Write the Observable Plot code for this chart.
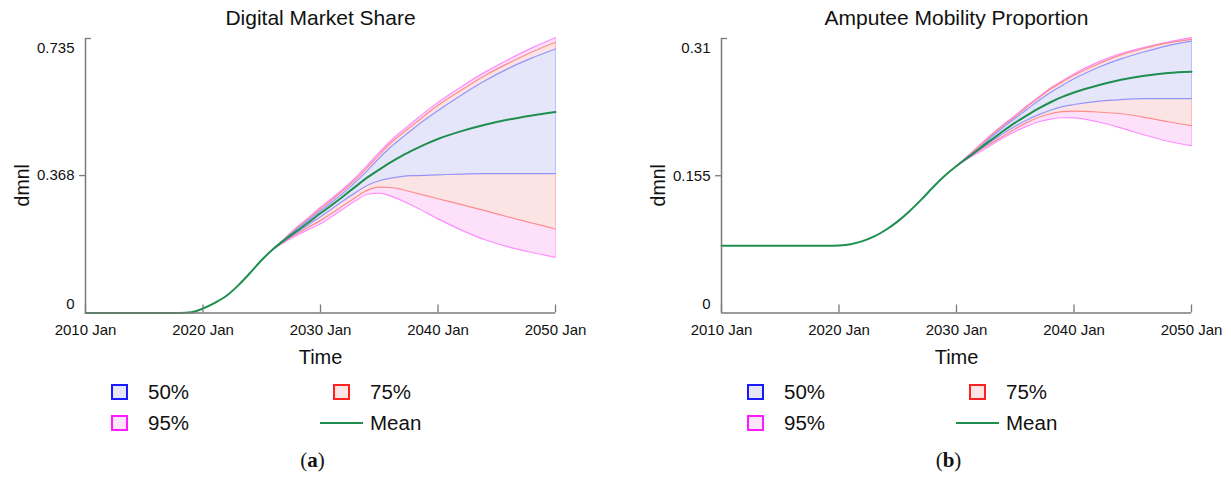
<!DOCTYPE html>
<html><head><meta charset="utf-8">
<script src="https://cdn.jsdelivr.net/npm/d3@7"></script>
<script src="https://cdn.jsdelivr.net/npm/@observablehq/plot@0.6"></script>
<style>
body{margin:0;background:#fff;font-family:"Liberation Sans",Arial,sans-serif;}
#root{position:relative;width:1231px;height:477px;overflow:hidden;background:#fff;}
.panel{position:absolute;top:0;height:477px;}
.panel svg{position:absolute;left:0;top:0;}
.lg{position:absolute;font-size:20.5px;color:#111;line-height:1;white-space:nowrap;}
.sw{position:absolute;width:13px;height:12px;border:2px solid;}
.ml{position:absolute;height:2px;}
.cap{position:absolute;font-family:"Liberation Serif","DejaVu Serif",serif;font-size:21px;line-height:1;color:#111;transform:translateX(-50%);white-space:nowrap;}
</style></head><body><div id="root"></div>
<script>
// ---- shared axis ticks ----
const xTicks = [2010, 2020, 2030, 2040, 2050];
const xTickLabels = ["2010 Jan", "2020 Jan", "2030 Jan", "2040 Jan", "2050 Jan"];
const legendLabels = ["50%", "75%", "95%", "Mean"];

// ---- panel (a): Digital Market Share ----
const aTitle = "Digital Market Share";
const aYTicks = [0, 0.368, 0.735];
const aYTickLabels = ["0", "0.368", "0.735"];
const aMeanYears = [2010, 2018, 2019, 2020, 2021, 2022, 2023, 2024, 2025, 2026, 2027, 2028, 2029, 2030, 2031, 2032, 2033, 2034, 2035, 2036, 2037, 2038, 2039, 2040, 2042, 2044, 2046, 2048, 2050];
const aMean = [0, 0, 0.002, 0.012, 0.027, 0.046, 0.074, 0.107, 0.142, 0.172, 0.197, 0.220, 0.243, 0.267, 0.290, 0.314, 0.339, 0.363, 0.384, 0.404, 0.422, 0.438, 0.453, 0.466, 0.487, 0.504, 0.518, 0.529, 0.538];
const aBandYears = [2026, 2027, 2028, 2029, 2030, 2031, 2032, 2033, 2034, 2035, 2036, 2037, 2038, 2040, 2042, 2044, 2046, 2048, 2050];
const aUp95 = [0.172, 0.201, 0.230, 0.256, 0.283, 0.308, 0.334, 0.363, 0.396, 0.430, 0.462, 0.489, 0.515, 0.564, 0.606, 0.645, 0.679, 0.710, 0.737];
const aUp75 = [0.172, 0.200, 0.228, 0.253, 0.279, 0.304, 0.330, 0.358, 0.390, 0.424, 0.456, 0.482, 0.507, 0.556, 0.597, 0.636, 0.669, 0.699, 0.725];
const aUp50 = [0.172, 0.199, 0.225, 0.249, 0.274, 0.298, 0.323, 0.351, 0.382, 0.415, 0.445, 0.471, 0.496, 0.542, 0.584, 0.622, 0.655, 0.683, 0.707];
const aLo50 = [0.172, 0.195, 0.216, 0.237, 0.258, 0.280, 0.302, 0.323, 0.342, 0.354, 0.361, 0.366, 0.368, 0.370, 0.372, 0.373, 0.373, 0.373, 0.373];
const aLo75 = [0.172, 0.193, 0.212, 0.230, 0.248, 0.268, 0.289, 0.310, 0.329, 0.337, 0.336, 0.330, 0.322, 0.306, 0.290, 0.274, 0.257, 0.241, 0.225];
const aLo95 = [0.172, 0.191, 0.208, 0.224, 0.239, 0.259, 0.280, 0.301, 0.318, 0.321, 0.313, 0.300, 0.285, 0.252, 0.222, 0.196, 0.177, 0.162, 0.149];

// ---- panel (b): Amputee Mobility Proportion ----
const bTitle = "Amputee Mobility Proportion";
const bYTicks = [0, 0.155, 0.31];
const bYTickLabels = ["0", "0.155", "0.31"];
const bMeanYears = [2010, 2019, 2020, 2021, 2022, 2023, 2024, 2025, 2026, 2027, 2028, 2029, 2030, 2031, 2032, 2033, 2034, 2035, 2036, 2037, 2038, 2039, 2040, 2042, 2044, 2046, 2048, 2050];
const bMean = [0.076, 0.076, 0.0763, 0.0777, 0.0812, 0.0865, 0.094, 0.1035, 0.115, 0.128, 0.142, 0.155, 0.166, 0.176, 0.186, 0.196, 0.2058, 0.215, 0.2232, 0.231, 0.238, 0.244, 0.249, 0.257, 0.2635, 0.268, 0.271, 0.2724];
const bBandYears = [2030, 2031, 2032, 2033, 2034, 2035, 2036, 2037, 2038, 2039, 2040, 2042, 2044, 2046, 2048, 2050];
const bUp95 = [0.166, 0.178, 0.190, 0.202, 0.213, 0.223, 0.234, 0.244, 0.254, 0.262, 0.270, 0.283, 0.293, 0.300, 0.306, 0.311];
const bUp75 = [0.166, 0.177, 0.189, 0.201, 0.212, 0.222, 0.233, 0.243, 0.253, 0.261, 0.2685, 0.281, 0.2915, 0.299, 0.305, 0.309];
const bUp50 = [0.166, 0.1765, 0.187, 0.199, 0.210, 0.220, 0.230, 0.240, 0.249, 0.257, 0.2645, 0.277, 0.287, 0.295, 0.302, 0.307];
const bLo50 = [0.166, 0.1755, 0.185, 0.194, 0.203, 0.211, 0.218, 0.224, 0.229, 0.233, 0.2355, 0.239, 0.241, 0.242, 0.242, 0.242];
const bLo75 = [0.166, 0.175, 0.184, 0.192, 0.200, 0.208, 0.215, 0.221, 0.225, 0.2275, 0.228, 0.227, 0.225, 0.221, 0.216, 0.2117];
const bLo95 = [0.166, 0.1745, 0.182, 0.190, 0.198, 0.205, 0.211, 0.216, 0.219, 0.2205, 0.2204, 0.216, 0.209, 0.201, 0.194, 0.189];

// ---- styling ----
const C = {
  fill95: "#fde1fb", fill75: "#fde4e4", fill50: "#e6e6fa",
  line95: "#ff8cff", line75: "#ff8c8c", line50: "#9494ff",
  mean: "#1e8f4e", axis: "#7a7a7a", text: "#111"
};
const FONT = "'Liberation Sans', Arial, Helvetica, sans-serif";
const curve = "monotone-x";

function panel(cfg) {
  const bands = cfg.bandYears.map((t, i) => ({
    t, up95: cfg.up95[i], up75: cfg.up75[i], up50: cfg.up50[i],
    lo50: cfg.lo50[i], lo75: cfg.lo75[i], lo95: cfg.lo95[i]
  }));
  const last = bands[bands.length - 1];
  const means = cfg.meanYears.map((t, i) => ({t, v: cfg.mean[i]}));
  const yT = cfg.yTicks, n = yT.length;
  const edge = (key, color) => Plot.lineY(bands, {x: "t", y: key, stroke: color, strokeWidth: 1.2, curve});
  const endEdge = (k1, k2, color) => Plot.ruleX([last], {x: "t", y1: k1, y2: k2, stroke: color, strokeWidth: 1, strokeOpacity: 0.6});
  const yLabels = yT.map((v, i) => Plot.text([v], {
    y: d => d, frameAnchor: "left", dx: -11,
    dy: i === 0 ? -9.2 : (i === n - 1 ? 9.7 : 0),
    text: () => cfg.yTickLabels[i], textAnchor: "end", lineAnchor: "middle",
    fontSize: 15, fill: C.text
  }));
  const chart = Plot.plot({
    width: cfg.width, height: 477,
    marginLeft: 85, marginRight: cfg.width - 85 - 470, marginTop: 38, marginBottom: 164.5,
    x: {domain: [xTicks[0], xTicks[xTicks.length - 1]]},
    y: {domain: [yT[0], yT[n - 1]]},
    style: {fontFamily: FONT, background: "transparent", overflow: "visible"},
    marks: [
      Plot.areaY(bands, {x: "t", y1: "lo95", y2: "up95", fill: C.fill95, curve}),
      Plot.areaY(bands, {x: "t", y1: "lo75", y2: "up75", fill: C.fill75, curve}),
      Plot.areaY(bands, {x: "t", y1: "lo50", y2: "up50", fill: C.fill50, curve}),
      endEdge("lo95", "lo75", C.line95), endEdge("up75", "up95", C.line95),
      endEdge("lo75", "lo50", C.line75), endEdge("up50", "up75", C.line75),
      endEdge("lo50", "up50", C.line50),
      edge("lo95", C.line95), edge("up95", C.line95),
      edge("lo75", C.line75), edge("up75", C.line75),
      edge("lo50", C.line50), edge("up50", C.line50),
      Plot.lineY(means, {x: "t", y: "v", stroke: C.mean, strokeWidth: 2, curve}),
      // axis lines
      Plot.ruleX([xTicks[0]], {stroke: C.axis, strokeWidth: 1.5}),
      Plot.ruleY([yT[0]], {stroke: C.axis, strokeWidth: 1.5}),
      // x ticks pointing inward
      Plot.axisX({ticks: xTicks, tickSize: 8, dy: -8, fill: "none", stroke: C.axis, strokeWidth: 1.3, label: null}),
      // middle y tick outward, top y tick inward
      Plot.axisY({ticks: yT.slice(1, n - 1), tickSize: 6, fill: "none", stroke: C.axis, strokeWidth: 1.3, label: null}),
      Plot.axisY({ticks: [yT[n - 1]], tickSize: 6, dx: 6, fill: "none", stroke: C.axis, strokeWidth: 1.3, label: null}),
      // tick labels
      Plot.text(xTicks, {x: d => d, frameAnchor: "bottom", dy: 16.8, text: (d, i) => xTickLabels[i],
        textAnchor: "middle", lineAnchor: "middle", fontSize: 15, fill: C.text}),
      ...yLabels,
      // title and axis labels
      Plot.text([cfg.title], {frameAnchor: "top", dy: -19.8, text: d => d, fontSize: 21, lineAnchor: "middle", fill: C.text}),
      Plot.text(["Time"], {frameAnchor: "bottom", dy: 44.2, text: d => d, fontSize: 20, lineAnchor: "middle", fill: C.text}),
      Plot.text(["dmnl"], {frameAnchor: "left", dx: -63, dy: 9.5, rotate: -90, text: d => d, fontSize: 19.5,
        textAnchor: "middle", lineAnchor: "middle", fill: C.text})
    ]
  });

  const div = document.createElement("div");
  div.className = "panel";
  div.style.left = cfg.left + "px";
  div.style.width = cfg.width + "px";
  div.appendChild(chart);

  const add = (html, cls, css) => {
    const e = document.createElement("div");
    e.className = cls;
    if (html != null) e.innerHTML = html;
    Object.assign(e.style, css);
    div.appendChild(e);
  };
  // legend
  add(null, "sw", {left: "111px", top: "383.5px", borderColor: "#1a1aff", background: "#e6e6f8"});
  add(legendLabels[0], "lg", {left: "148px", top: "382px"});
  add(null, "sw", {left: "333px", top: "383.5px", borderColor: "#ff2020", background: "#fbe4e4"});
  add(legendLabels[1], "lg", {left: "370px", top: "382px"});
  add(null, "sw", {left: "111px", top: "415px", borderColor: "#ff1aff", background: "#fde6fb"});
  add(legendLabels[2], "lg", {left: "148px", top: "413px"});
  add(null, "ml", {left: "320px", top: "421.5px", width: "43px", background: C.mean});
  add(legendLabels[3], "lg", {left: "370px", top: "413px"});
  // caption
  add(`(<b>${cfg.caption}</b>)`, "cap", {left: "312.5px", top: "450px"});
  return div;
}

const root = document.getElementById("root");
root.appendChild(panel({
  left: 0, width: 636, title: aTitle, caption: "a",
  yTicks: aYTicks, yTickLabels: aYTickLabels,
  meanYears: aMeanYears, mean: aMean, bandYears: aBandYears,
  up95: aUp95, up75: aUp75, up50: aUp50, lo50: aLo50, lo75: aLo75, lo95: aLo95
}));
root.appendChild(panel({
  left: 636, width: 595, title: bTitle, caption: "b",
  yTicks: bYTicks, yTickLabels: bYTickLabels,
  meanYears: bMeanYears, mean: bMean, bandYears: bBandYears,
  up95: bUp95, up75: bUp75, up50: bUp50, lo50: bLo50, lo75: bLo75, lo95: bLo95
}));
</script></body></html>
